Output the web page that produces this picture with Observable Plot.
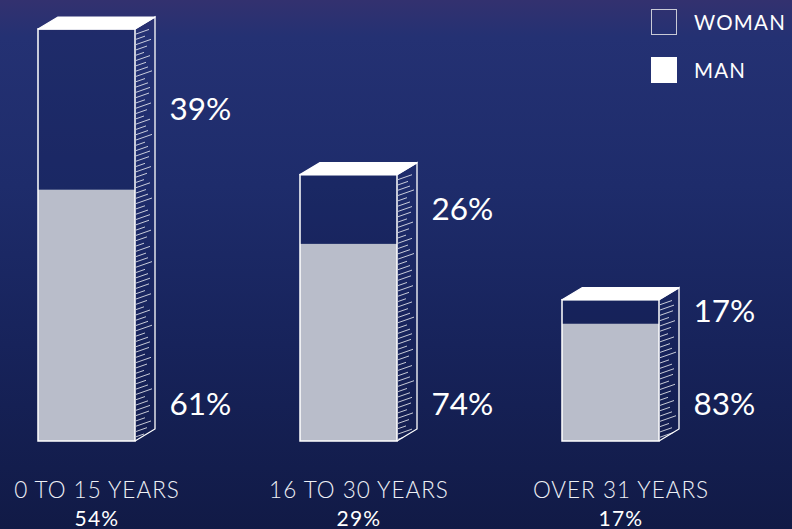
<!DOCTYPE html>
<html>
<head>
<meta charset="utf-8">
<script src="https://cdn.jsdelivr.net/npm/d3@7"></script>
<script src="https://cdn.jsdelivr.net/npm/@observablehq/plot@0.6"></script>
<style>
  html, body { margin: 0; padding: 0; }
  body {
    width: 792px; height: 529px; overflow: hidden; position: relative;
    background: linear-gradient(to bottom, #33316f 0%, #243173 7%, #1e2c6b 35%, #17235b 65%, #111a46 100%);
    font-family: Lato, "Open Sans", sans-serif;
  }
  #chart { position: absolute; left: 0; top: 0; }
  .legend { position: absolute; left: 651px; color: #fff; font-size: 20.5px; letter-spacing: 1.2px; display: flex; align-items: center; white-space: nowrap; }
  .legend .sw { width: 24px; height: 24px; box-sizing: content-box; margin-right: 17px; }
</style>
</head>
<body>
<div id="chart"></div>
<div class="legend" style="top:9px"><div class="sw" style="border:1.5px solid #c9cad6;"></div><span>WOMAN</span></div>
<div class="legend" style="top:57px"><div class="sw" style="background:#fff;border:1.5px solid #fff;"></div><span>MAN</span></div>
<script>
const categories = ["0 TO 15 YEARS", "16 TO 30 YEARS", "OVER 31 YEARS"];
const totalShare = [54, 29, 17];
const womanShare = [39, 26, 17];
const manShare = [61, 74, 83];
const yFloor = 9.3; // lower end of the (log) bar-height scale

const rows = categories.map((c, i) => ({category: c, total: totalShare[i], woman: womanShare[i], man: manShare[i]}));
// level at a fraction of a bar's drawn height (log scale -> geometric interpolation)
const level = (d, f) => yFloor * Math.pow(d.total / yFloor, f);

const DX = 20, DY = 12;
const hatchLens = [13, 9, 15, 11, 8, 14, 10, 12, 16, 9, 12, 14];

function render3D(index, scales, values) {
  const bw = scales.x.bandwidth();
  const g = d3.create("svg:g");
  for (const i of index) {
    const d = rows[i];
    const x0 = values.x[i], x1 = x0 + bw, yb = values.y1[i], yt = values.y2[i];
    const ys = yb - (d.man / 100) * (yb - yt);
    g.append("rect").attr("x", x0).attr("y", yt).attr("width", bw).attr("height", ys - yt)
      .attr("fill", "#0f1a4e").attr("fill-opacity", 0.25);
    g.append("rect").attr("x", x0).attr("y", ys).attr("width", bw).attr("height", yb - ys)
      .attr("fill", "#b9bdca");
    g.append("rect").attr("x", x0).attr("y", yt).attr("width", bw).attr("height", yb - yt)
      .attr("fill", "none").attr("stroke", "#fff").attr("stroke-width", 1.5);
    g.append("polygon")
      .attr("points", `${x0},${yt} ${x1},${yt} ${x1 + DX},${yt - DY} ${x0 + DX},${yt - DY}`)
      .attr("fill", "#fff").attr("stroke", "#fff").attr("stroke-width", 1.2).attr("stroke-linejoin", "round");
    g.append("path")
      .attr("d", `M${x1},${yt}L${x1 + DX},${yt - DY}L${x1 + DX},${yb - DY}L${x1},${yb}`)
      .attr("fill", "none").attr("stroke", "#fff").attr("stroke-width", 1.3);
    let k = i * 5;
    for (let y = yt + 5; y < yb - 1.5; y += 5.3, k++) {
      let L = hatchLens[k % hatchLens.length];
      L = Math.min(L, (yb - y) / 0.25 - 1.5);
      if (L < 2) continue;
      g.append("line")
        .attr("x1", x1 + 1).attr("y1", y)
        .attr("x2", x1 + 1 + L).attr("y2", y - L * 0.35)
        .attr("stroke", "#fff").attr("stroke-width", 0.9).attr("stroke-opacity", 0.85);
    }
  }
  return g.node();
}

const labelFont = "Lato, 'Open Sans', sans-serif";

const chart = Plot.plot({
  width: 792,
  height: 529,
  marginLeft: 11,
  marginRight: 107,
  marginTop: 29,
  marginBottom: 88,
  style: {background: "transparent", fontFamily: labelFont, color: "#fff", overflow: "visible"},
  x: {domain: categories, paddingInner: 0.63, paddingOuter: 0.1, axis: null},
  y: {type: "log", domain: [yFloor, 54], axis: null},
  marks: [
    Plot.barY(rows, {x: "category", y1: () => yFloor, y2: "total", render: render3D}),
    Plot.text(rows, {x: "category", y: d => level(d, (d.man + d.woman / 2) / 100), text: d => d.woman + "%",
      dx: 82.5, textAnchor: "start", fontSize: 31.5, fill: "#fff"}),
    Plot.text(rows, {x: "category", y: () => yFloor, text: d => d.man + "%",
      dx: 82.5, dy: -36.5, textAnchor: "start", fontSize: 31.5, fill: "#fff"}),
    Plot.text(rows, {x: "category", y: () => yFloor, text: "category",
      dx: 10, dy: 49.5, textAnchor: "middle", fontSize: 22.5, fill: "#eef0f6", fontWeight: 300}),
    Plot.text(rows, {x: "category", y: () => yFloor, text: d => d.total + "%",
      dx: 10, dy: 78, textAnchor: "middle", fontSize: 21, fill: "#fff"})
  ]
});
// widen the bottom labels (letter spacing) to match the reference typeface
const textGroups = d3.select(chart).selectAll("g[aria-label='text']").nodes();
d3.select(textGroups[textGroups.length - 2]).attr("letter-spacing", "1px");
d3.select(textGroups[textGroups.length - 1]).attr("letter-spacing", "1.2px");
document.getElementById("chart").appendChild(chart);
</script>
</body>
</html>
